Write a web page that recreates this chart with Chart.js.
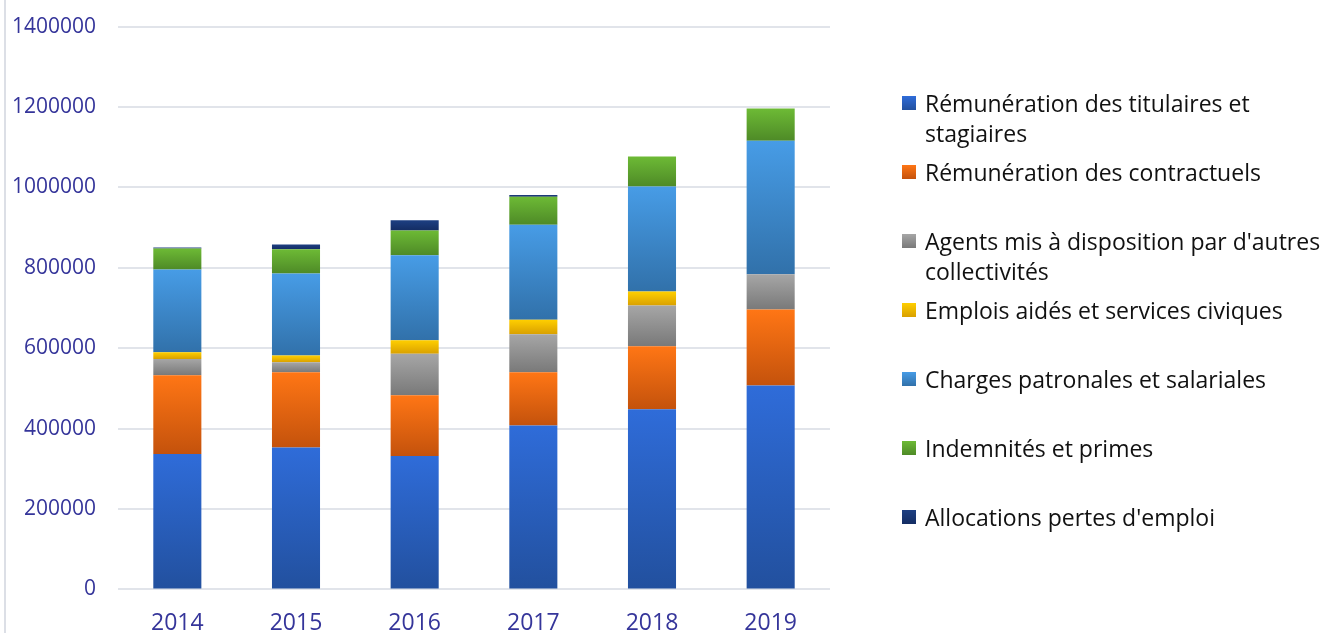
<!DOCTYPE html>
<html>
<head>
<meta charset="utf-8">
<script src="https://cdn.jsdelivr.net/npm/chart.js@4.4.1/dist/chart.umd.min.js"></script>
<style>
  html, body { margin: 0; padding: 0; background: #fff; overflow: hidden; }
  #wrap { position: relative; width: 1324px; height: 633px; overflow: hidden; }
  #bord { position: absolute; left: 4px; top: 0; width: 2px; height: 633px; background: #dcdfe6; }
  #cv { position: absolute; left: 0; top: -8px; }
  #legende { position: absolute; left: 902px; top: 88px; font-family: "Open Sans", sans-serif; font-size: 23px; color: #111; }
  .item { position: relative; height: 69px; padding-left: 23px; line-height: 30px; white-space: nowrap; }
  .carre { position: absolute; left: 0; top: 8px; width: 14px; height: 14px; }
</style>
</head>
<body>
<div id="wrap">
  <div id="bord"></div>
  <canvas id="cv" width="1324" height="657"></canvas>
  <div id="legende"></div>
</div>
<script>
// Années
const annees = ["2014", "2015", "2016", "2017", "2018", "2019"];

// Séries (en euros)
const titulaires   = [337000, 353000, 332000, 408000, 448000, 507000];
const contractuels = [196000, 187000, 151000, 132000, 157000, 189000];
const misADispo    = [40000, 25000, 103000, 95000, 101000, 88000];
const emploisAides = [17000, 17000, 34000, 36000, 35000, 0];
const charges      = [206000, 204000, 211000, 236000, 261000, 332000];
const indemnites   = [52000, 60000, 62000, 70000, 75000, 80000];
const allocations  = [2500, 12000, 25000, 4000, 0, 0];

const libelles = [
  "Rémunération des titulaires et<br>stagiaires",
  "Rémunération des contractuels",
  "Agents mis à disposition par d'autres<br>collectivités",
  "Emplois aidés et services civiques",
  "Charges patronales et salariales",
  "Indemnités et primes",
  "Allocations pertes d'emploi"
];
const series = [titulaires, contractuels, misADispo, emploisAides, charges, indemnites, allocations];

// couleurs haut / bas du dégradé
const couleurs = [
  ["#2f6cd9", "#22509e"],
  ["#ff7615", "#c4520c"],
  ["#a6a6a6", "#797979"],
  ["#ffcf00", "#d9a000"],
  ["#479ce6", "#3171aa"],
  ["#6dba35", "#4e8a27"],
  ["#1d3f82", "#142d63"]
];

function degrade(ctx) {
  const chart = ctx.chart;
  const di = ctx.datasetIndex;
  const c = couleurs[di];
  if (!chart.chartArea || ctx.dataIndex === undefined) return c[0];
  let bas = 0;
  for (let k = 0; k < di; k++) bas += series[k][ctx.dataIndex];
  const haut = bas + series[di][ctx.dataIndex];
  const y = chart.scales.y;
  const y0 = y.getPixelForValue(bas), y1 = y.getPixelForValue(haut);
  if (Math.abs(y0 - y1) < 0.5) return c[0];
  const g = chart.ctx.createLinearGradient(0, y1, 0, y0);
  g.addColorStop(0, c[0]);
  g.addColorStop(1, c[1]);
  return g;
}

const datasets = series.map((s, i) => ({
  label: libelles[i].replace("<br>", " "),
  data: s,
  backgroundColor: degrade,
  borderWidth: 0,
  barPercentage: 0.405,
  categoryPercentage: 1
}));

new Chart(document.getElementById("cv"), {
  type: "bar",
  data: { labels: annees, datasets: datasets },
  options: {
    responsive: false,
    animation: false,
    layout: { padding: { left: 0, right: 494, top: 7, bottom: 0 } },
    plugins: { legend: { display: false }, tooltip: { enabled: false } },
    scales: {
      x: {
        stacked: true,
        grid: { display: false },
        border: { display: false },
        ticks: { color: "#35359a", font: { family: "Open Sans", size: 23 }, padding: 12 }
      },
      y: {
        stacked: true,
        min: 0,
        max: 1400000,
        grid: { color: "#e1e4ea", lineWidth: 2, drawTicks: false },
        border: { display: false },
        afterFit: s => { s.width = 118; },
        ticks: {
          stepSize: 200000,
          color: "#35359a",
          font: { family: "Open Sans", size: 21 },
          padding: 22,
          callback: v => String(v)
        }
      }
    }
  }
});

// légende HTML
const leg = document.getElementById("legende");
libelles.forEach((l, i) => {
  const d = document.createElement("div");
  d.className = "item";
  d.innerHTML = '<span class="carre" style="background:linear-gradient(' + couleurs[i][0] + ',' + couleurs[i][1] + ')"></span>' + l;
  leg.appendChild(d);
});
</script>
</body>
</html>
